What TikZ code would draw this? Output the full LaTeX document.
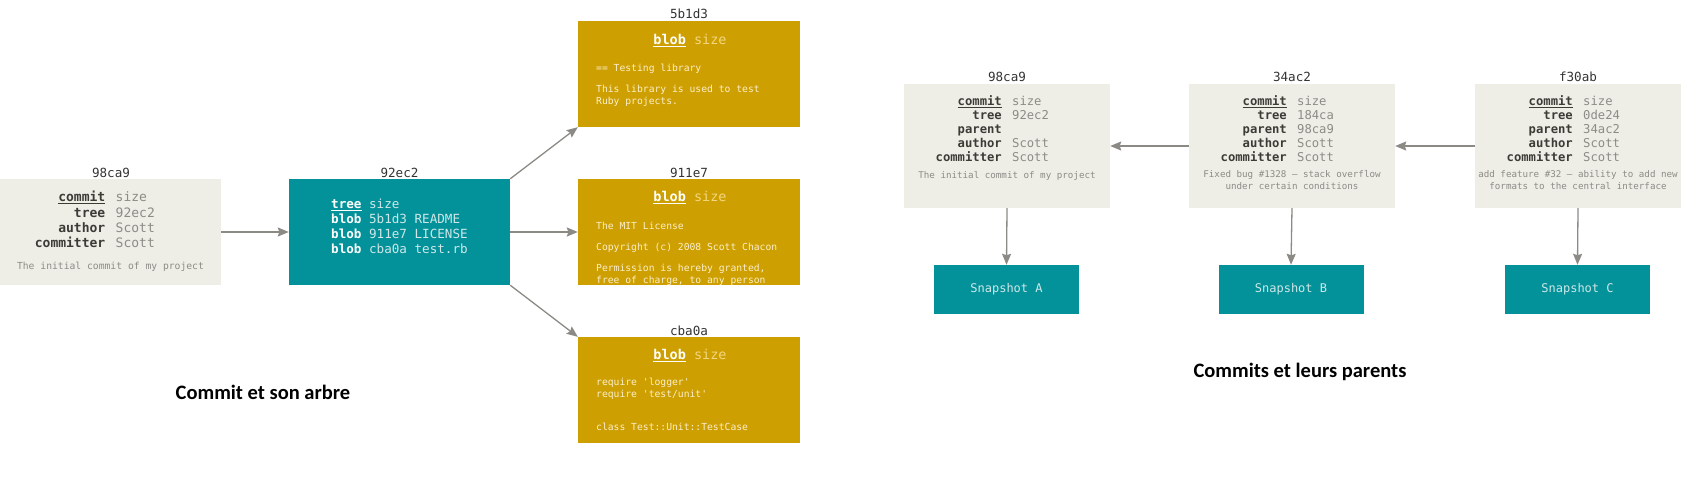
\documentclass[tikz,border=0pt]{standalone}
\usepackage{fontspec}
\setmainfont{Carlito}
\newfontfamily\mono{DejaVu Sans Mono}
\usetikzlibrary{arrows.meta}
\definecolor{cbg}{HTML}{EEEDE6}
\definecolor{teal}{HTML}{03929A}
\definecolor{gold}{HTML}{CE9F00}
\definecolor{ckey}{HTML}{3D3B36}
\definecolor{cval}{HTML}{8D8B86}
\definecolor{tval}{HTML}{CFE7E8}
\definecolor{gsize}{HTML}{F2D680}
\definecolor{gbody}{HTML}{FBEFCB}
\definecolor{arr}{HTML}{8C8A85}
\definecolor{lbl}{HTML}{333333}
\tikzset{
  commitbox/.style={fill=cbg, inner sep=0, minimum width=#1, minimum height=106pt},
  tealbox/.style={fill=teal, inner sep=0},
  goldbox/.style={fill=gold, inner sep=0, minimum width=222pt, minimum height=106pt},
  hashlbl/.style={inner sep=0, anchor=base, text=lbl, font=\mono\fontsize{12.6}{14}\selectfont},
  ckeyA/.style={inner sep=0, anchor=mid east, text=ckey, font=\mono\bfseries\fontsize{13}{15}\selectfont},
  cvalA/.style={inner sep=0, anchor=mid west, text=cval, font=\mono\fontsize{13}{15}\selectfont},
  ckeyB/.style={inner sep=0, anchor=mid east, text=ckey, font=\mono\bfseries\fontsize{12.2}{14}\selectfont},
  cvalB/.style={inner sep=0, anchor=mid west, text=cval, font=\mono\fontsize{12.2}{14}\selectfont},
  cmsg/.style={inner sep=0, anchor=mid, text=cval, align=center, font=\mono\fontsize{9.2}{12}\selectfont},
  treeline/.style={inner sep=0, anchor=mid west, text=tval, font=\mono\fontsize{12.6}{15}\selectfont},
  blobhead/.style={inner sep=0, anchor=mid, text=gsize, font=\mono\fontsize{13.5}{15}\selectfont},
  blobbody/.style={inner sep=0, anchor=mid west, text=gbody, font=\mono\fontsize{9.7}{12}\selectfont},
  snaptxt/.style={text=tval, font=\mono\fontsize{12}{14}\selectfont},
  caption/.style={inner sep=0, anchor=mid, text=black, font=\bfseries\fontsize{20.5}{24}\selectfont},
  conn/.style={draw=arr, line width=1.3pt, -{Stealth[length=11pt,width=9pt,inset=1.5pt]}}
}
\newcommand\crow[6]{% style suffix, name, xc, y, key, value
  \node[ckey#1] (#2k) at (#3-5,#4) {#5};
  \node[cval#1] (#2v) at (#3+5,#4) {#6};}
\begin{document}
\begin{tikzpicture}[x=1pt,y=-1pt]
\useasboundingbox (0,0) rectangle (1697,499);
% ---------- left: commit and its tree ----------
\node[commitbox=221pt] (lc) at (110.5,232) {};
\node[hashlbl] (lclbl) at (111,177) {98ca9};
\crow{A}{lca}{110.5}{199}{\underline{commit}}{size}
\crow{A}{lcb}{110.5}{215}{tree}{92ec2}
\crow{A}{lcc}{110.5}{230}{author}{Scott}
\crow{A}{lcd}{110.5}{245}{committer}{Scott}
\node[cmsg, font=\mono\fontsize{9.7}{11}\selectfont] (lcm) at (110.5,267) {The initial commit of my project};

\node[tealbox, minimum width=221pt, minimum height=106pt] (tr) at (399.5,232) {};
\node[hashlbl] (trlbl) at (399.5,177) {92ec2};
\node[treeline] (tr1) at (331,206) {{\bfseries\color{white}\underline{tree}} size};
\node[treeline] (tr2) at (331,221) {{\bfseries\color{white}blob} 5b1d3 README};
\node[treeline] (tr3) at (331,236) {{\bfseries\color{white}blob} 911e7 LICENSE};
\node[treeline] (tr4) at (331,251) {{\bfseries\color{white}blob} cba0a test.rb};

% blob 5b1d3
\node[goldbox] (b1) at (689,74) {};
\node[hashlbl] (b1lbl) at (689,18) {5b1d3};
\node[blobhead] (b1h) at (690,42) {{\bfseries\color{white}\underline{blob}} size};
\node[blobbody] (b1a) at (596,69) {== Testing library};
\node[blobbody] (b1b) at (596,90) {This library is used to test};
\node[blobbody] (b1c) at (596,102) {Ruby projects.};

% blob 911e7
\node[goldbox] (b2) at (689,232) {};
\node[hashlbl] (b2lbl) at (689,177) {911e7};
\node[blobhead] (b2h) at (690,199) {{\bfseries\color{white}\underline{blob}} size};
\node[blobbody] (b2a) at (596,227) {The MIT License};
\node[blobbody] (b2b) at (596,248) {Copyright (c) 2008 Scott Chacon};
\begin{scope}
\clip (578,179) rectangle (800,285);
\node[blobbody] (b2c) at (596,269) {Permission is hereby granted,};
\node[blobbody] (b2d) at (596,281) {free of charge, to any person};
\end{scope}

% blob cba0a
\node[goldbox] (b3) at (689,390) {};
\node[hashlbl] (b3lbl) at (689,335) {cba0a};
\node[blobhead] (b3h) at (690,357) {{\bfseries\color{white}\underline{blob}} size};
\node[blobbody] (b3a) at (596,383) {require 'logger'};
\node[blobbody] (b3b) at (596,395) {require 'test/unit'};
\node[blobbody] (b3c) at (596,428) {class Test::Unit::TestCase};

\draw[conn] (lc.east) -- (tr.west);
\draw[conn] (tr.north east) -- (b1.south west);
\draw[conn] (tr.east) -- (b2.west);
\draw[conn] (tr.south east) -- (b3.north west);

\node[caption] (cap1) at (263,397) {Commit et son arbre};

% ---------- right: commits and their parents ----------
\node[commitbox=206pt, minimum height=124pt] (ca) at (1007,146) {};
\node[hashlbl] (calbl) at (1007,81) {98ca9};
\crow{B}{caa}{1007}{103}{\underline{commit}}{size}
\crow{B}{cab}{1007}{117}{tree}{92ec2}
\node[ckeyB] (cack) at (1002,131) {parent};
\crow{B}{cad}{1007}{145}{author}{Scott}
\crow{B}{cae}{1007}{159}{committer}{Scott}
\node[cmsg] (cam) at (1007,176) {The initial commit of my project};

\node[commitbox=206pt, minimum height=124pt] (cb) at (1292,146) {};
\node[hashlbl] (cblbl) at (1292,81) {34ac2};
\crow{B}{cba}{1292}{103}{\underline{commit}}{size}
\crow{B}{cbb}{1292}{117}{tree}{184ca}
\crow{B}{cbc}{1292}{131}{parent}{98ca9}
\crow{B}{cbd}{1292}{145}{author}{Scott}
\crow{B}{cbe}{1292}{159}{committer}{Scott}
\node[cmsg] (cbm) at (1292,187) {Fixed bug \#1328 – stack overflow\\under certain conditions};

\node[commitbox=206pt, minimum height=124pt] (cc) at (1578,146) {};
\node[hashlbl] (cclbl) at (1578,81) {f30ab};
\crow{B}{cca}{1578}{103}{\underline{commit}}{size}
\crow{B}{ccb}{1578}{117}{tree}{0de24}
\crow{B}{ccc}{1578}{131}{parent}{34ac2}
\crow{B}{ccd}{1578}{145}{author}{Scott}
\crow{B}{cce}{1578}{159}{committer}{Scott}
\node[cmsg] (ccm) at (1578,187) {add feature \#32 – ability to add new\\formats to the central interface};

\node[tealbox, snaptxt, minimum width=145pt, minimum height=49pt] (sa) at (1006.5,289.5) {Snapshot A};
\node[tealbox, snaptxt, minimum width=145pt, minimum height=49pt] (sb) at (1291,289.5) {Snapshot B};
\node[tealbox, snaptxt, minimum width=145pt, minimum height=49pt] (sc) at (1577.5,289.5) {Snapshot C};

\draw[conn] (cb.west) -- (ca.east);
\draw[conn] (cc.west) -- (cb.east);
\draw[conn] (ca.south) -- (sa.north);
\draw[conn] (cb.south) -- (sb.north);
\draw[conn] (cc.south) -- (sc.north);

\node[caption] (cap2) at (1300,375) {Commits et leurs parents};
\end{tikzpicture}
\end{document}
